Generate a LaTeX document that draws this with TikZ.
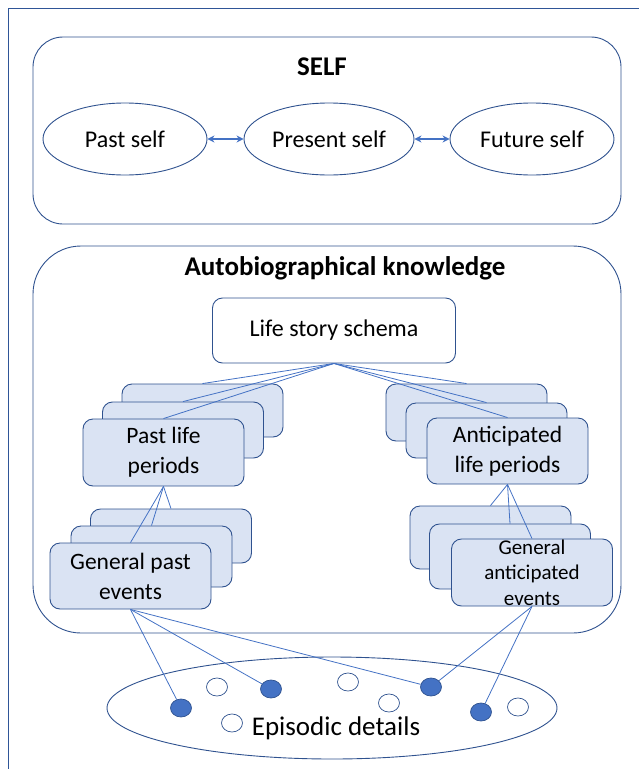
\documentclass[tikz,border=0pt]{standalone}
\usepackage{fontspec}
\setmainfont{Carlito}
\usetikzlibrary{shapes.geometric,arrows.meta}
\definecolor{edge}{HTML}{2F528F}
\definecolor{link}{HTML}{4472C4}
\definecolor{cardfill}{HTML}{DAE3F3}
\definecolor{frame}{HTML}{2F5597}
\begin{document}
\begin{tikzpicture}[x=1pt,y=-1pt,
  panel/.style={draw=edge, line width=0.9pt, rounded corners=#1, inner sep=0pt},
  title/.style={font=\fontsize{27}{32}\selectfont\bfseries, inner sep=0pt},
  selfell/.style={ellipse, draw=edge, line width=0.9pt, minimum width=164pt,
    minimum height=72pt, inner sep=0pt, font=\fontsize{24}{28}\selectfont},
  cardbox/.style={draw=edge, fill=cardfill, line width=0.9pt, rounded corners=10pt,
    minimum width=161pt, minimum height=#1, inner sep=0pt, align=center,
    font=\fontsize{23.5}{30}\selectfont},
  schemabox/.style={draw=edge, fill=white, line width=0.9pt, rounded corners=10pt,
    minimum width=243pt, minimum height=65pt, inner sep=0pt,
    font=\fontsize{24}{28}\selectfont},
  lnk/.style={draw=link, line width=0.8pt},
  twoway/.style={draw=link, line width=1.1pt, {Stealth[length=7pt,width=7pt]}-{Stealth[length=7pt,width=7pt]}},
  dotfull/.style={ellipse, draw=edge, fill=link, line width=0.7pt, minimum width=21pt, minimum height=18pt, inner sep=0pt},
  dotopen/.style={ellipse, draw=edge, fill=white, line width=0.7pt, minimum width=21pt, minimum height=18pt, inner sep=0pt}
]
\useasboundingbox (0,0) rectangle (639,769);

% page frame
\draw[frame, line width=0.9pt] (639,8) -- (8,8) -- (8,769);

% ---- SELF ----
\node[panel=30pt, minimum width=588pt, minimum height=187pt] (selfpanel) at (327,130.5) {};
\node[title] (selftitle) at (322,67) {SELF};
\node[selfell] (past) at (125,139) {Past self};
\node[selfell, minimum width=170pt] (present) at (329,139) {Present self};
\node[selfell] (future) at (532,139) {Future self};
\draw[twoway] (past.east) -- (present.west);
\draw[twoway] (present.east) -- (future.west);

% ---- Autobiographical knowledge ----
\node[panel=48pt, minimum width=588pt, minimum height=387pt] (abk) at (327,439.5) {};
\node[title] (abktitle) at (345,268) {Autobiographical knowledge};
\node[schemabox] (schema) at (334,330.5) {Life story schema};

% past life periods stack
\node[cardbox=53pt] (plp3) at (202.5,410.5) {};
\node[cardbox=56pt] (plp2) at (183,430) {};
\node[cardbox=67pt] (plp1) at (163.5,452.5) {Past life\\periods};

% anticipated life periods stack
\node[cardbox=57pt] (alp3) at (466.5,412.5) {};
\node[cardbox=55pt] (alp2) at (486.5,430.5) {};
\node[cardbox=66pt] (alp1) at (507.5,451) {Anticipated\\life periods};

% general past events stack
\node[cardbox=54pt] (gpe3) at (171,536) {};
\node[cardbox=61pt] (gpe2) at (151.5,556.5) {};
\node[cardbox=66pt] (gpe1) at (130.5,576) {General past\\events};

% general anticipated events stack
\node[cardbox=63pt] (gae3) at (490.5,537.5) {};
\node[cardbox=65pt] (gae2) at (510,556.5) {};
\node[cardbox=67pt, font=\fontsize{21}{25.5}\selectfont] (gae1) at (532,572.5) {General\\anticipated\\events};

% schema to life periods
\draw[lnk] (schema.south) -- (plp3.north);
\draw[lnk] (schema.south) -- (plp2.north);
\draw[lnk] (schema.south) -- (plp1.north);
\draw[lnk] (schema.south) -- (alp3.north);
\draw[lnk] (schema.south) -- (alp2.north);
\draw[lnk] (schema.south) -- (alp1.north);

% life periods to general events
\draw[lnk] (plp1.south) -- (gpe3.north);
\draw[lnk] (plp1.south) -- (gpe2.north);
\draw[lnk] (plp1.south) -- (gpe1.north);
\draw[lnk] (alp1.south) -- (gae3.north);
\draw[lnk] (alp1.south) -- (gae2.north);
\draw[lnk] (alp1.south) -- (gae1.north);

% ---- Episodic details ----
\node[ellipse, draw=edge, line width=0.9pt, minimum width=450pt, minimum height=102pt, inner sep=0pt] (episodic) at (332,708) {};
\node[font=\fontsize{27}{30}\selectfont, inner sep=0pt] (eptext) at (336,728) {Episodic details};

\node[dotfull] (d1) at (181,708) {};
\node[dotfull] (d2) at (271,689) {};
\node[dotfull] (d3) at (431,687) {};
\node[dotfull] (d4) at (481,712) {};
\node[dotopen] (o1) at (217,687) {};
\node[dotopen] (o2) at (348,682) {};
\node[dotopen] (o3) at (389,703) {};
\node[dotopen] (o4) at (232,723) {};
\node[dotopen] (o5) at (518,707) {};

% general events to episodic details
\draw[lnk] (gpe1.south) -- (d1);
\draw[lnk] (gpe1.south) -- (d2);
\draw[lnk] (gpe1.south) -- (d3);
\draw[lnk] (gae1.south) -- (d3);
\draw[lnk] (gae1.south) -- (d4);
\end{tikzpicture}
\end{document}
